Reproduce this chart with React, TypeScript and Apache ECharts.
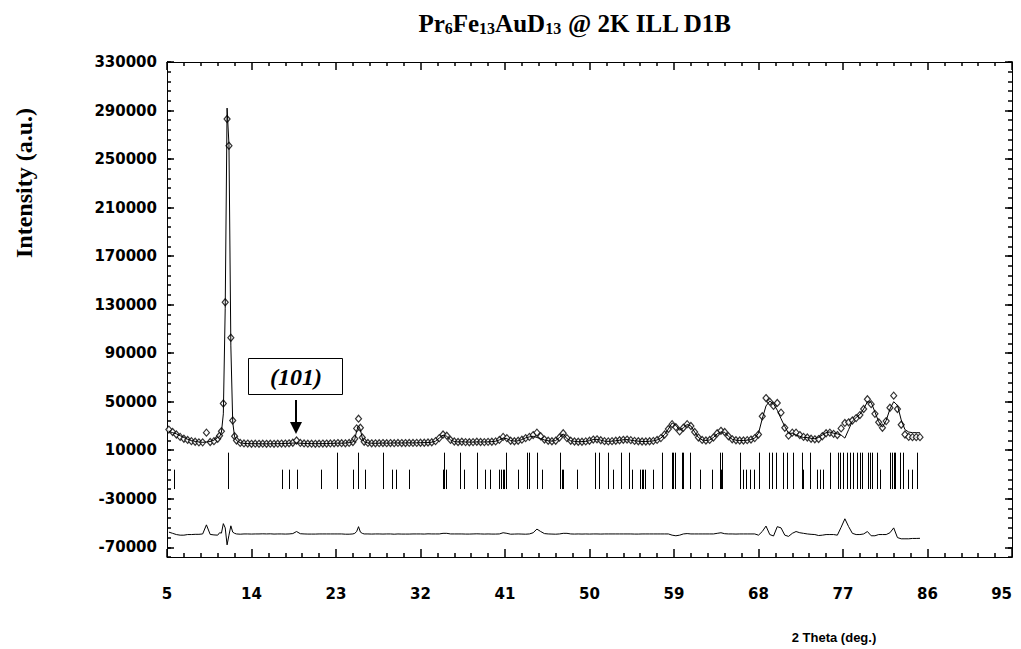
import React, { useEffect, useRef } from "react";
import * as echarts from "echarts";

// 2-theta positions of the measured points (deg.)
const twoTheta = [
  5.2, 5.6, 6.0, 6.4, 6.8, 7.2, 7.6, 8.0, 8.4, 8.8,
  9.2, 9.6, 10.0, 10.4, 10.6, 10.8, 11.0, 11.2, 11.4, 11.6,
  11.8, 12.0, 12.2, 12.4, 12.8, 13.2, 13.6, 14.0, 14.4, 14.8,
  15.2, 15.6, 16.0, 16.4, 16.8, 17.2, 17.6, 18.0, 18.4, 18.8,
  19.2, 19.6, 20.0, 20.4, 20.8, 21.2, 21.6, 22.0, 22.4, 22.8,
  23.2, 23.6, 24.0, 24.4, 24.8, 25.0, 25.2, 25.4, 25.6, 25.8,
  26.0, 26.4, 26.8, 27.2, 27.6, 28.0, 28.4, 28.8, 29.2, 29.6,
  30.0, 30.4, 30.8, 31.2, 31.6, 32.0, 32.4, 32.8, 33.2, 33.6,
  34.0, 34.4, 34.8, 35.2, 35.6, 36.0, 36.4, 36.8, 37.2, 37.6,
  38.0, 38.4, 38.8, 39.2, 39.6, 40.0, 40.4, 40.8, 41.2, 41.6,
  42.0, 42.4, 42.8, 43.2, 43.6, 44.0, 44.4, 44.8, 45.2, 45.6,
  46.0, 46.4, 46.8, 47.2, 47.6, 48.0, 48.4, 48.8, 49.2, 49.6,
  50.0, 50.4, 50.8, 51.2, 51.6, 52.0, 52.4, 52.8, 53.2, 53.6,
  54.0, 54.4, 54.8, 55.2, 55.6, 56.0, 56.4, 56.8, 57.2, 57.6,
  58.0, 58.4, 58.8, 59.2, 59.6, 60.0, 60.4, 60.8, 61.2, 61.6,
  62.0, 62.4, 62.8, 63.2, 63.6, 64.0, 64.4, 64.8, 65.2, 65.6,
  66.0, 66.4, 66.8, 67.2, 67.6, 68.0, 68.4, 68.8, 69.2, 69.6,
  70.0, 70.4, 70.8, 71.2, 71.6, 72.0, 72.4, 72.8, 73.2, 73.6,
  74.0, 74.4, 74.8, 75.2, 75.6, 76.0, 76.4, 76.8, 77.2, 77.6,
  78.0, 78.4, 78.8, 79.2, 79.6, 80.0, 80.4, 80.8, 81.2, 81.6,
  82.0, 82.4, 82.8, 83.2, 83.6, 84.0, 84.4, 84.8, 85.2,
];

// observed intensity (open diamonds)
const observed = [
  27000, 25000, 23000, 21000, 19500, 18500, 17500, 17000, 16500, 16500,
  24500, 16800, 17500, 19500, 22000, 25700, 48500, 132000, 283000, 261000,
  102700, 34500, 21500, 18000, 16000, 15600, 15500, 15300, 15400, 15300,
  15400, 15300, 15400, 15300, 15400, 15500, 15500, 15700, 16200, 18000,
  16000, 15600, 15400, 15400, 15300, 15400, 15500, 15500, 15600, 15700,
  15900, 15800, 15700, 16000, 16800, 19500, 28000, 36000, 28500, 20500,
  17000, 16000, 15700, 15700, 15800, 15900, 15800, 15900, 15800, 16000,
  15900, 15900, 16000, 16000, 16100, 16200, 16200, 16400, 16600, 17500,
  20000, 23000, 22000, 18500, 17200, 16800, 17000, 16700, 16600, 16700,
  17000, 16800, 16700, 16900, 17000, 17300, 18500, 21000, 20000, 17800,
  17400, 17800, 18700, 20000, 21000, 22500, 24500, 21500, 18800, 17800,
  17400, 17800, 20500, 24000, 20000, 17800, 17200, 17000, 17000, 17300,
  17800, 18800, 19000, 18200, 17500, 17300, 17500, 17800, 18200, 18600,
  18800, 18300, 17700, 17400, 17200, 17200, 17400, 17700, 18500, 20000,
  23000, 27500, 31500, 29000, 25500, 28500, 31500, 30000, 25000, 20500,
  18500, 18000, 18500, 20500, 24000, 26000, 25000, 21500, 19000, 18200,
  18000, 18000, 18300, 18800, 20000, 23000, 38000, 53000, 50000, 46500,
  49000, 41000, 28500, 22000, 24500, 24500, 22500, 21000, 20500, 19500,
  19000, 19200, 21500, 24000, 24500, 23500, 22500, 28000, 32500, 33000,
  34500, 36500, 39000, 44000, 52000, 48000, 40000, 33000, 28500, 34000,
  45000, 55000, 44000, 31000, 23000, 21000, 20800, 20800, 20800,
];

// calculated profile (solid line)
const calculated = [
  25500, 24500, 23500, 22000, 20500, 19000, 18000, 17300, 16800, 16500,
  16800, 17200, 18300, 20500, 21000, 25000, 40000, 127000, 292000, 262000,
  96000, 33000, 21000, 18000, 16200, 15600, 15500, 15400, 15400, 15300,
  15300, 15300, 15300, 15400, 15400, 15500, 15600, 15700, 15900, 16000,
  15800, 15600, 15500, 15500, 15400, 15400, 15500, 15500, 15600, 15700,
  15900, 15800, 15900, 16200, 16800, 19000, 26000, 30000, 27000, 20000,
  17000, 16000, 15800, 15700, 15800, 16000, 15800, 15900, 16000, 16000,
  16000, 16000, 16100, 16000, 16100, 16200, 16300, 16300, 16600, 17500,
  20000, 22500, 21500, 18500, 17200, 16800, 17000, 16800, 16700, 16700,
  16900, 16800, 16800, 16900, 17100, 17400, 18500, 20000, 19500, 18000,
  17500, 17800, 18800, 20200, 21000, 21500, 20500, 19500, 18500, 17800,
  17500, 18000, 20500, 23500, 19500, 17800, 17300, 17000, 17100, 17300,
  17900, 18800, 19000, 18300, 17500, 17300, 17500, 17800, 18200, 18600,
  18800, 18300, 17800, 17500, 17200, 17200, 17400, 17700, 18500, 20000,
  23000, 27500, 32500, 30500, 26500, 28500, 31200, 30000, 25000, 20500,
  18500, 18000, 18500, 20500, 23500, 25000, 24800, 21500, 19000, 18300,
  18000, 18000, 18300, 18800, 20000, 24000, 36000, 46500, 50500, 48200,
  43000, 36000, 29500, 24000, 24000, 22500, 21500, 20500, 20500, 19800,
  19500, 20500, 22500, 24500, 25000, 24000, 23500, 22500, 20000, 27000,
  34000, 37000, 39500, 44000, 50000, 49500, 41500, 33500, 29000, 34500,
  44000, 50000, 47000, 35000, 27000, 25000, 24500, 24500, 24400,
];

// difference curve (observed - calculated, drawn below the pattern)
const difference = [
  -57500, -58500, -59500, -60000, -60000, -59500, -59500, -59300, -59300, -59000,
  -51500, -59400, -59800, -60000, -58000, -58300, -50500, -54000, -68000, -60000,
  -52300, -57500, -58500, -59000, -59200, -59000, -59000, -59100, -59000, -59000,
  -58900, -59000, -58900, -59100, -59000, -59000, -59100, -59000, -58700, -57000,
  -58800, -59000, -59100, -59100, -59100, -59000, -59000, -59000, -59000, -59000,
  -59000, -59000, -59200, -59200, -59000, -58500, -57000, -53000, -57500, -58500,
  -59000, -59000, -59100, -59000, -59000, -59100, -59000, -59000, -59200, -59000,
  -59100, -59100, -59100, -59000, -59000, -59000, -59100, -58900, -59000, -59000,
  -59000, -58500, -58500, -59000, -59000, -59000, -59000, -59100, -59100, -59000,
  -58900, -59000, -59100, -59000, -59100, -59100, -59000, -58000, -58500, -59200,
  -59100, -59000, -59100, -59200, -59000, -58000, -55000, -57000, -58700, -59000,
  -59100, -59200, -59000, -58500, -58500, -59000, -59100, -59000, -59100, -59000,
  -59100, -59000, -59000, -59100, -59000, -59000, -59000, -59000, -59000, -59000,
  -59000, -59000, -59100, -59100, -59000, -59000, -59000, -59000, -59000, -59000,
  -59000, -59000, -60000, -60500, -60000, -59000, -58700, -59000, -59000, -59000,
  -59000, -59000, -59000, -59000, -58500, -58000, -58800, -59000, -59000, -59100,
  -59000, -59000, -59000, -59000, -59000, -60000, -57000, -52500, -59500, -60700,
  -53000, -54000, -60000, -61000, -58500, -57000, -58000, -58500, -59000, -59300,
  -59500, -60300, -60000, -59500, -59500, -59500, -60000, -53500, -46500, -53000,
  -58500, -59500, -59500, -59000, -57000, -60500, -60500, -59500, -59500, -59500,
  -58000, -54000, -62000, -63000, -63000, -63000, -62700, -62700, -62600,
];

// Bragg reflection positions (long and short markers)
const braggLong = [
  11.53, 23.07, 25.38, 27.97, 34.5, 36.2, 38.05, 41.1, 43.38, 43.6,
  44.37, 46.86, 50.6, 51.05, 52.0, 53.35, 54.2, 57.7, 58.75, 58.9,
  59.1, 59.8, 59.97, 60.7, 63.9, 64.1, 66.0, 68.1, 69.1, 69.4,
  69.9, 70.6, 71.0, 71.7, 72.6, 73.45, 75.6, 76.5, 76.7, 77.0,
  77.4, 77.75, 78.1, 78.5, 78.8, 79.0, 79.7, 79.9, 80.05, 80.6,
  82.0, 82.2, 82.4, 82.55, 83.1, 83.4, 84.85,
];
const braggShort = [
  5.75, 17.2, 18.03, 18.8, 21.4, 24.85, 26.05, 28.96, 29.39, 30.74,
  34.36, 34.7, 36.63, 38.87, 39.4, 40.36, 40.54, 40.75, 40.93, 42.4,
  44.94, 47.03, 47.2, 48.7, 52.5, 54.5, 55.4, 55.55, 55.7, 55.9,
  56.8, 61.77, 63.0, 64.0, 66.3, 66.66, 67.1, 67.5, 72.75, 74.2,
  74.5, 74.9, 80.95, 83.95, 84.3,
];

const yMajorTicks = [-70000, -30000, 10000, 50000, 90000, 130000, 170000, 210000, 250000, 290000, 330000];
const Y_MIN = -78000;
const Y_MAX = 330000;
const Y_MINOR_STEP = 8000;
const X_MIN = 5;
const X_MAX = 95;
const X_STEP = 9;
const BRAGG_LONG_TOP = 8000;
const BRAGG_SHORT_TOP = -6000;
const BRAGG_BOTTOM = -22000;

const yMinorTicks: number[] = [];
for (let v = Y_MIN; v <= Y_MAX; v += Y_MINOR_STEP) yMinorTicks.push(v);

const LABEL_FONT = "DejaVu Sans";
const SERIF = "'Liberation Serif', 'Times New Roman', serif";

export default function App() {
  const ref = useRef<HTMLDivElement>(null);

  useEffect(() => {
    if (!ref.current) return;
    const chart = echarts.init(ref.current, undefined, { renderer: "svg" });

    const axisLine = () => ({ show: true, onZero: false, lineStyle: { color: "#000", width: 1 } });
    const tickStyle = () => ({ color: "#000", width: 1.5 });
    const yAxisBase = (position: string, ticks: number[], len: number, labels: boolean) => ({
      type: "value",
      min: Y_MIN,
      max: Y_MAX,
      position,
      axisLine: axisLine(),
      splitLine: { show: false },
      axisTick: { show: true, inside: true, length: len, customValues: ticks, lineStyle: tickStyle() },
      axisLabel: labels
        ? {
            show: true,
            customValues: yMajorTicks,
            formatter: (v: number) => String(v),
            color: "#000",
            fontFamily: LABEL_FONT,
            fontWeight: "bold",
            fontSize: 15,
            margin: 10,
          }
        : { show: false },
    });
    const xAxisBase = (position: string, labels: boolean) => ({
      type: "value",
      min: X_MIN,
      max: X_MAX,
      interval: X_STEP,
      position,
      axisLine: axisLine(),
      splitLine: { show: false },
      minorSplitLine: { show: false },
      axisTick: { show: true, inside: true, length: 8, lineStyle: tickStyle() },
      minorTick: { show: true, splitNumber: 5, length: 4, lineStyle: tickStyle() },
      axisLabel: labels
        ? {
            show: true,
            color: "#000",
            fontFamily: LABEL_FONT,
            fontWeight: "bold",
            fontSize: 15,
            margin: 29,
            alignMaxLabel: "right",
          }
        : { show: false },
    });

    const braggItem = (top: number) => (params: any, api: any) => {
      const x = api.value(0);
      const p1 = api.coord([x, top]);
      const p2 = api.coord([x, BRAGG_BOTTOM]);
      const px = Math.round(p1[0]) + 0.5;
      return {
        type: "line",
        shape: { x1: px, y1: p1[1], x2: px, y2: p2[1] },
        style: { stroke: "#000", lineWidth: 1 },
      };
    };

    chart.setOption({
      animation: false,
      backgroundColor: "#fff",
      grid: { left: 167, right: 9, top: 62, bottom: 92 },
      xAxis: [xAxisBase("bottom", true), xAxisBase("top", false)],
      yAxis: [
        yAxisBase("left", yMajorTicks, 7, true),
        yAxisBase("left", yMinorTicks, 4, false),
        yAxisBase("right", yMajorTicks, 7, false),
        yAxisBase("right", yMinorTicks, 4, false),
      ],
      series: [
        {
          name: "Observed",
          type: "scatter",
          data: twoTheta.map((t, i) => [t, observed[i]]),
          symbol: "diamond",
          symbolSize: [6, 7],
          itemStyle: { color: "#fff", borderColor: "#000", borderWidth: 1.2 },
        },
        {
          name: "Calculated",
          type: "line",
          data: twoTheta.map((t, i) => [t, calculated[i]]),
          showSymbol: false,
          lineStyle: { color: "#000", width: 1 },
        },
        {
          name: "Difference",
          type: "line",
          data: twoTheta.map((t, i) => [t, difference[i]]),
          showSymbol: false,
          lineStyle: { color: "#000", width: 1 },
        },
        {
          name: "Bragg long",
          type: "custom",
          data: braggLong.map((t) => [t, BRAGG_LONG_TOP]),
          encode: { x: 0, y: 1 },
          renderItem: braggItem(BRAGG_LONG_TOP),
        },
        {
          name: "Bragg short",
          type: "custom",
          data: braggShort.map((t) => [t, BRAGG_SHORT_TOP]),
          encode: { x: 0, y: 1 },
          renderItem: braggItem(BRAGG_SHORT_TOP),
        },
      ],
      graphic: [
        {
          type: "text",
          x: 575,
          y: 23,
          style: {
            text: "{n|Pr}{s|6}{n|Fe}{s|13}{n|AuD}{s|13}{n| @ 2K ILL D1B}",
            align: "center",
            verticalAlign: "middle",
            rich: {
              n: { fontSize: 25, fontFamily: SERIF, fontWeight: "bold", fill: "#000", lineHeight: 27, verticalAlign: "middle" },
              s: { fontSize: 16, fontFamily: SERIF, fontWeight: "bold", fill: "#000", lineHeight: 16, verticalAlign: "bottom" },
            },
          },
        },
        {
          type: "text",
          x: 24,
          y: 183,
          rotation: Math.PI / 2,
          style: {
            text: "Intensity (a.u.)",
            fontSize: 24,
            fontFamily: SERIF,
            fontWeight: "bold",
            fill: "#000",
            align: "center",
            verticalAlign: "middle",
          },
        },
        {
          type: "text",
          x: 834,
          y: 637,
          style: {
            text: "2 Theta (deg.)",
            fontSize: 13,
            fontFamily: "'Liberation Sans', Arial, sans-serif",
            fontWeight: "bold",
            fill: "#000",
            align: "center",
            verticalAlign: "middle",
          },
        },
        {
          type: "rect",
          shape: { x: 248.5, y: 358.5, width: 94, height: 36 },
          style: { fill: "#fff", stroke: "#000", lineWidth: 1 },
        },
        {
          type: "text",
          x: 296,
          y: 377,
          style: {
            text: "(101)",
            fontSize: 24,
            fontFamily: SERIF,
            fontWeight: "bold",
            fontStyle: "italic",
            fill: "#000",
            align: "center",
            verticalAlign: "middle",
          },
        },
        {
          type: "line",
          shape: { x1: 296, y1: 400, x2: 296, y2: 425 },
          style: { stroke: "#000", lineWidth: 2 },
        },
        {
          type: "polygon",
          shape: { points: [[290, 422], [302, 422], [296, 434]] },
          style: { fill: "#000" },
        },
      ],
    });

    return () => chart.dispose();
  }, []);

  return (
    <div
      ref={ref}
      style={{ position: "fixed", left: 0, top: 0, width: 1021, height: 649, background: "#fff" }}
    />
  );
}
